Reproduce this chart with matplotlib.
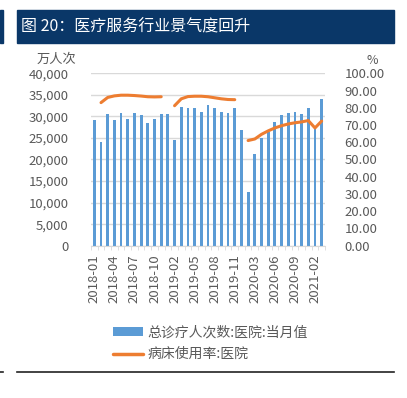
import numpy as np
import matplotlib
matplotlib.use("Agg")
import matplotlib.pyplot as plt
from matplotlib.patches import Rectangle, Patch
from matplotlib.lines import Line2D
from matplotlib.ticker import FuncFormatter

plt.rcParams['font.family'] = ['Noto Sans CJK SC', 'DejaVu Sans']

# data
months = ['2018-01', '2018-02', '2018-03', '2018-04', '2018-05', '2018-06',
          '2018-07', '2018-08', '2018-09', '2018-10', '2018-11', '2018-12',
          '2019-02', '2019-03', '2019-04', '2019-05', '2019-06', '2019-07',
          '2019-08', '2019-09', '2019-10', '2019-11', '2020-01', '2020-02',
          '2020-03', '2020-04', '2020-05', '2020-06', '2020-07', '2020-08',
          '2020-09', '2020-10', '2020-11', '2021-02', '2021-03']
visits = [29230, 24000, 30460, 29080, 30770, 29460, 30770, 30380, 28460, 29380,
          30620, 30460, 24460, 32150, 31850, 31850, 30920, 32620, 32000, 31000,
          30850, 31850, 26770, 12460, 21380, 25080, 26310, 28620, 30230, 30850,
          30920, 30620, 31850, 27700, 34150]
bed_rate = [np.nan, 83.0, 86.0, 86.9, 87.3, 87.3, 87.1, 86.8, 86.4, 86.3, 86.4,
            np.nan, 81.2, 85.2, 86.5, 86.7, 86.7, 86.4, 85.8, 85.2, 84.8, 84.7,
            np.nan, 61.0, 61.9, 64.6, 66.6, 68.3, 69.6, 70.6, 71.3, 71.8, 72.6,
            68.3, 72.3]

bar_label = '总诊疗人次数:医院:当月值'
line_label = '病床使用率:医院'
title = '图 20：医疗服务行业景气度回升'

blue = '#5B9BD5'
orange = '#ED7D31'
grid = '#D9D9D9'
txt = '#595959'
navy = '#0A3768'

W, H = 407, 398
fig = plt.figure(figsize=(W / 100, H / 100), dpi=100)

# title bar
fig.patches.append(Rectangle((17 / W, 1 - 43 / H), 377 / W, 33 / H,
                             transform=fig.transFigure, color=navy, zorder=0))
fig.patches.append(Rectangle((0, 1 - 43 / H), 3 / W, 33 / H,
                             transform=fig.transFigure, color=navy, zorder=0))
fig.text(21 / W, 1 - 27 / H, title, color='white', fontsize=11.5,
         va='center', ha='left')

ax = fig.add_axes([91 / W, 1 - 245.7 / H, 234 / W, 172.4 / H])
x = np.arange(len(months))
ax.bar(x, visits, width=0.42, color=blue, zorder=2)
ax.set_xlim(-0.5, len(months) - 0.5)
ax.set_ylim(0, 40000)
ax.set_yticks(np.arange(0, 40001, 5000))
ax.yaxis.set_major_formatter(FuncFormatter(lambda v, p: f'{int(v):,}'))
ax.grid(axis='y', color=grid, linewidth=1, zorder=0)
ax.set_axisbelow(True)
ax.set_xticks(x[::3])
ax.set_xticklabels(months[::3], rotation=90)
ax.set_xticks(np.arange(-0.5, len(months), 1), minor=True)
ax.tick_params(axis='x', which='major', length=0, pad=6)
ax.tick_params(axis='x', which='minor', length=3, color=grid)
ax.tick_params(axis='y', length=0, pad=16)
ax.tick_params(labelsize=9.5, labelcolor=txt)
for s in ['top', 'right', 'left']:
    ax.spines[s].set_visible(False)
ax.spines['bottom'].set_color(grid)

ax2 = ax.twinx()
ax2.plot(x, bed_rate, color=orange, linewidth=2.2, solid_capstyle='round',
         solid_joinstyle='round', zorder=3)
ax2.set_ylim(0, 100)
ax2.set_yticks(np.arange(0, 101, 10))
ax2.yaxis.set_major_formatter(FuncFormatter(lambda v, p: f'{v:.2f}'))
ax2.tick_params(axis='y', length=0, pad=14, labelsize=9.5, labelcolor=txt)
for s in ax2.spines.values():
    s.set_visible(False)

fig.text(56 / W, 1 - 59 / H, '万人次', color=txt, fontsize=9.5,
         ha='center', va='center')
fig.text(372 / W, 1 - 60 / H, '%', color=txt, fontsize=9,
         ha='center', va='center')

handles = [Patch(facecolor=blue, edgecolor='none'),
           Line2D([0], [0], color=orange, linewidth=2.5, solid_capstyle='round')]
fig.legend(handles, [bar_label, line_label], loc='upper left',
           bbox_to_anchor=(100 / W, 1 - 313 / H), frameon=False,
           fontsize=10, labelcolor=txt, handlelength=2.2, handleheight=0.55,
           handletextpad=0.3, labelspacing=0.55)

fig.add_artist(Line2D([17 / W, 394 / W], [1 - 372 / H] * 2, color='#222222',
                      linewidth=1.2, transform=fig.transFigure))
fig.add_artist(Line2D([0, 3 / W], [1 - 372 / H] * 2, color='#222222',
                      linewidth=1.2, transform=fig.transFigure))

fig.savefig('out.png', dpi=100)
